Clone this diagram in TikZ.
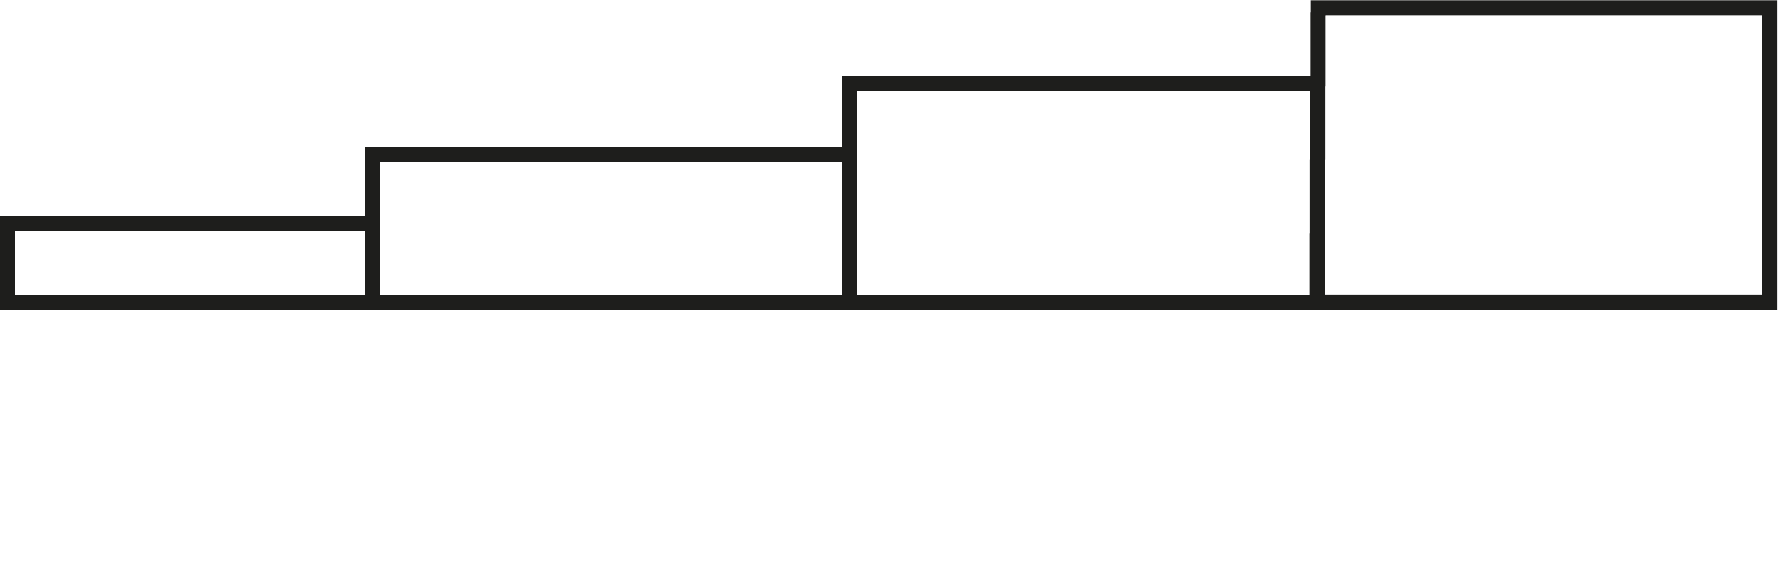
\documentclass[tikz,border=0pt]{standalone}
\definecolor{ink}{RGB}{30,30,28}
\begin{document}
\begin{tikzpicture}[x=0.5pt,y=-0.5pt,
  stepbox/.style={draw=ink,line width=7.5pt,line join=miter}]
\useasboundingbox (0,0) rectangle (1778,561);
\draw[stepbox] (7.5,224) rectangle (372,302.5);
\draw[stepbox] (372,155) rectangle (849,302.5);
\draw[stepbox] (849,84) rectangle (1317,302.5);
\draw[stepbox] (1318,8) -- (1769.5,8) -- (1769.5,302.5) -- (1317,302.5) -- cycle;
\end{tikzpicture}
\end{document}
